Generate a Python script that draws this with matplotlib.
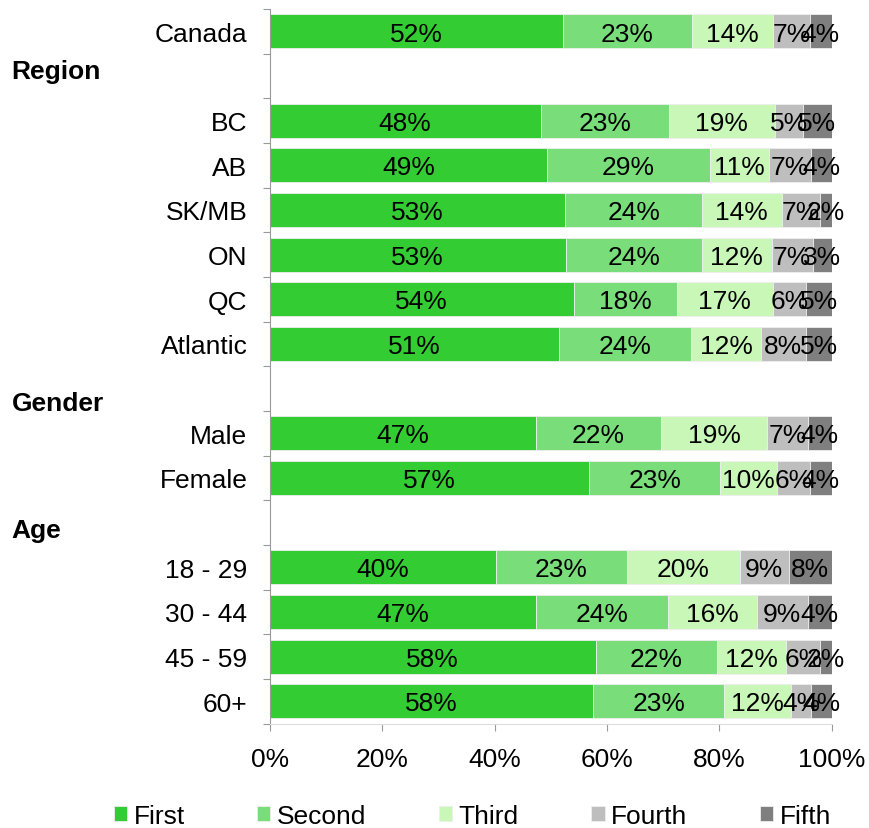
import matplotlib
matplotlib.use("Agg")
import matplotlib.pyplot as plt
import numpy as np

plt.rcParams['font.family'] = ['Liberation Sans', 'DejaVu Sans']

# rows from top to bottom; header names mark group header slots
rows = ["Canada", "Region", "BC", "AB", "SK/MB", "ON", "QC", "Atlantic",
        "Gender", "Male", "Female", "Age", "18 - 29", "30 - 44", "45 - 59", "60+"]
headers = ["Region", "Gender", "Age"]

series = ["First", "Second", "Third", "Fourth", "Fifth"]
colors = ["#33CC33", "#79DD79", "#C8F7B8", "#BEBEBE", "#7F7F7F"]

first  = [52.1, None, 48.2, 49.4, 52.6, 52.7, 54.1, 51.4, None, 47.3, 56.9, None, 40.2, 47.3, 58.0, 57.6]
second = [23.0, None, 22.8, 28.9, 24.3, 24.2, 18.4, 23.6, None, 22.4, 23.2, None, 23.3, 23.6, 21.6, 23.2]
third  = [14.4, None, 18.9, 10.6, 14.2, 12.4, 17.0, 12.4, None, 18.8, 10.1, None, 20.1, 15.8, 12.3, 12.0]
fourth = [6.6,  None, 5.0,  7.4,  6.8,  7.3,  5.9,  8.0,  None, 7.3,  5.9,  None, 8.8,  9.0,  6.1,  3.6]
fifth  = [3.9,  None, 5.1,  3.7,  2.1,  3.4,  4.6,  4.6,  None, 4.2,  3.9,  None, 7.6,  4.3,  2.0,  3.6]

data = [first, second, third, fourth, fifth]

FS = 19

fig = plt.figure(figsize=(8.7, 8.29), dpi=100)
ax = fig.add_axes([0.310, 0.126, 0.646, 0.862])

n = len(rows)
ypos = np.arange(n)
bar_rows = [i for i, r in enumerate(rows) if r not in headers]

left = np.zeros(n)
for name, vals, col in zip(series, data, colors):
    w = np.array([v if v is not None else 0 for v in vals])
    ax.barh([ypos[i] for i in bar_rows], [w[i] for i in bar_rows],
            left=[left[i] for i in bar_rows], height=0.76, color=col,
            edgecolor="#eeeeee", linewidth=0.6, label=name)
    for i in bar_rows:
        ax.text(left[i] + w[i] / 2, ypos[i] + 0.05, f"{w[i]:.0f}%", ha="center",
                va="center", fontsize=FS, color="black")
    left += w

ax.set_xlim(0, 100)
ax.set_ylim(n - 0.5, -0.5)

# category labels (headers drawn separately in bold)
ax.set_yticks([ypos[i] for i in bar_rows])
ax.set_yticklabels([rows[i] for i in bar_rows], fontsize=FS)
ax.tick_params(axis="y", which="major", length=0, pad=16)
ax.set_yticks(np.arange(n + 1) - 0.5, minor=True)
ax.tick_params(axis="y", which="minor", length=5, color="#999999", width=0.8)

header_offset = {"Region": -0.1, "Gender": 0.32, "Age": 0.16}
for i, r in enumerate(rows):
    if r in headers:
        ax.text(-0.459, ypos[i] + header_offset[r], r, transform=ax.get_yaxis_transform(),
                ha="left", va="center", fontsize=FS, fontweight="bold")

ax.set_xticks(np.arange(0, 101, 20))
ax.set_xticklabels([f"{t}%" for t in range(0, 101, 20)], fontsize=FS)
ax.tick_params(axis="x", length=5, color="#999999", width=0.8, pad=12)

for s in ["top", "right"]:
    ax.spines[s].set_visible(False)
ax.spines["left"].set_color("#999999")
ax.spines["bottom"].set_color("#dddddd")

fig.legend(loc="center", bbox_to_anchor=(0.543, 0.0145), ncol=5, frameon=False,
           fontsize=FS, handlelength=0.5, handleheight=0.5, handletextpad=0.25,
           columnspacing=2.75)

fig.savefig("out.png", dpi=100)
